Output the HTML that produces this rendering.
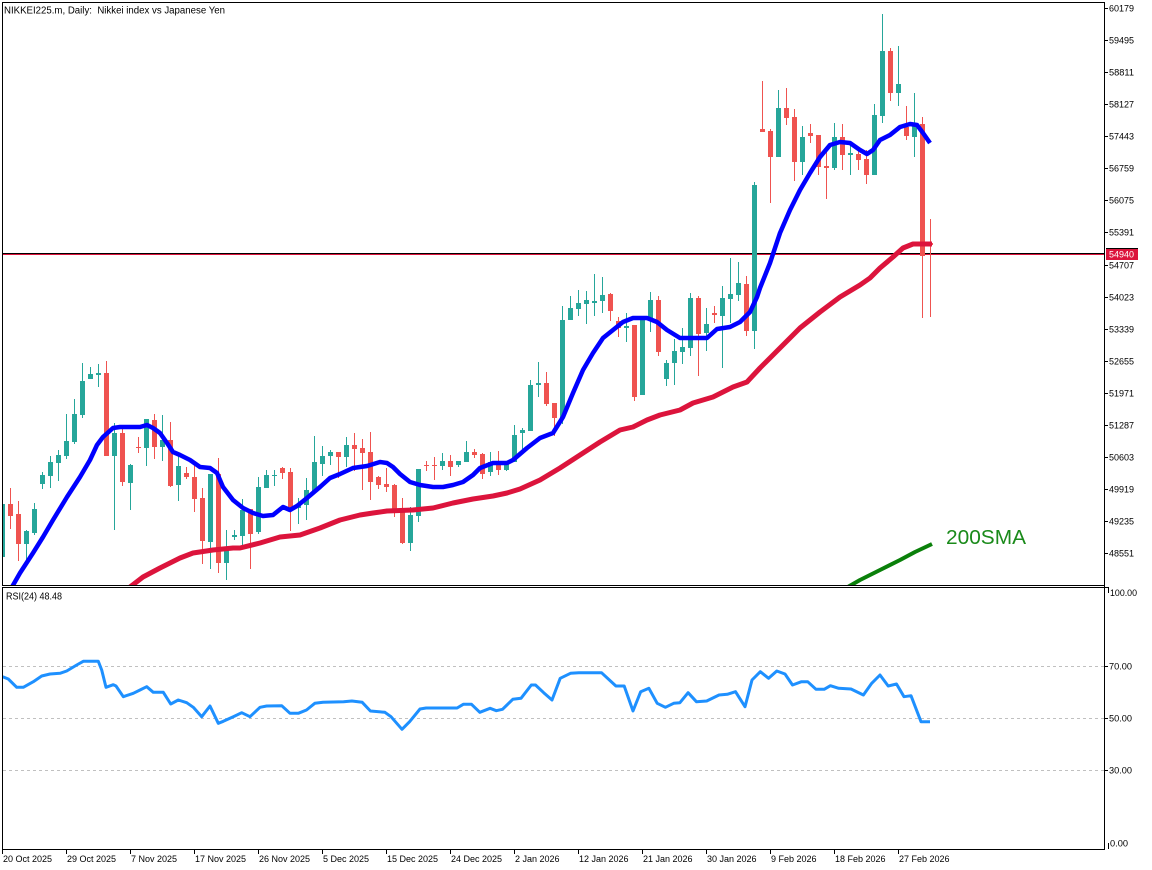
<!DOCTYPE html>
<html><head><meta charset="utf-8"><style>
html,body{margin:0;padding:0;background:#fff;}
svg{display:block;font-family:"Liberation Sans",Arial,sans-serif;}
</style></head><body>
<svg width="1152" height="870" viewBox="0 0 1152 870" xmlns="http://www.w3.org/2000/svg">
<defs>
<clipPath id="cm"><rect x="3" y="3" width="1101" height="582"/></clipPath>
<clipPath id="cr"><rect x="3" y="588" width="1101" height="261"/></clipPath>
</defs>
<rect width="1152" height="870" fill="#fff"/>

<!-- main panel -->
<g clip-path="url(#cm)">
<rect x="3" y="253" width="1101" height="1" fill="#000"/>
<rect x="3" y="254" width="1101" height="1" fill="#dc143c"/>
<g fill="#26a69a" shape-rendering="crispEdges">
<rect x="2" y="494" width="1" height="66"/><rect x="0" y="504" width="5" height="53"/>
<rect x="26" y="530" width="1" height="31"/><rect x="24" y="531" width="5" height="13"/>
<rect x="34" y="503" width="1" height="32"/><rect x="32" y="509" width="5" height="24"/>
<rect x="42" y="472" width="1" height="17"/><rect x="40" y="475" width="5" height="9"/>
<rect x="50" y="456" width="1" height="32"/><rect x="48" y="462" width="5" height="14"/>
<rect x="58" y="450" width="1" height="31"/><rect x="56" y="455" width="5" height="8"/>
<rect x="66" y="414" width="1" height="45"/><rect x="64" y="441" width="5" height="15"/>
<rect x="74" y="399" width="1" height="45"/><rect x="72" y="414" width="5" height="28"/>
<rect x="82" y="363" width="1" height="55"/><rect x="80" y="381" width="5" height="34"/>
<rect x="90" y="367" width="1" height="12"/><rect x="88" y="374" width="5" height="5"/>
<rect x="98" y="364" width="1" height="23"/><rect x="96" y="373" width="5" height="2"/>
<rect x="114" y="423" width="1" height="107"/><rect x="112" y="433" width="5" height="23"/>
<rect x="130" y="464" width="1" height="46"/><rect x="128" y="465" width="5" height="18"/>
<rect x="146" y="419" width="1" height="47"/><rect x="144" y="419" width="5" height="29"/>
<rect x="162" y="415" width="1" height="46"/><rect x="160" y="440" width="5" height="7"/>
<rect x="178" y="452" width="1" height="49"/><rect x="176" y="466" width="5" height="19"/>
<rect x="210" y="474" width="1" height="95"/><rect x="208" y="474" width="5" height="68"/>
<rect x="226" y="530" width="1" height="50"/><rect x="224" y="548" width="5" height="15"/>
<rect x="234" y="530" width="1" height="10"/><rect x="232" y="535" width="5" height="2"/>
<rect x="242" y="499" width="1" height="46"/><rect x="240" y="510" width="5" height="26"/>
<rect x="258" y="477" width="1" height="57"/><rect x="256" y="487" width="5" height="45"/>
<rect x="266" y="470" width="1" height="18"/><rect x="264" y="475" width="5" height="13"/>
<rect x="274" y="470" width="1" height="16"/><rect x="272" y="475" width="5" height="1"/>
<rect x="298" y="498" width="1" height="26"/><rect x="296" y="505" width="5" height="3"/>
<rect x="306" y="478" width="1" height="42"/><rect x="304" y="490" width="5" height="15"/>
<rect x="314" y="436" width="1" height="55"/><rect x="312" y="462" width="5" height="29"/>
<rect x="322" y="446" width="1" height="30"/><rect x="320" y="456" width="5" height="8"/>
<rect x="330" y="450" width="1" height="15"/><rect x="328" y="452" width="5" height="4"/>
<rect x="346" y="437" width="1" height="30"/><rect x="344" y="445" width="5" height="12"/>
<rect x="410" y="507" width="1" height="44"/><rect x="408" y="515" width="5" height="28"/>
<rect x="418" y="469" width="1" height="53"/><rect x="416" y="469" width="5" height="47"/>
<rect x="442" y="453" width="1" height="17"/><rect x="440" y="461" width="5" height="5"/>
<rect x="458" y="461" width="1" height="6"/><rect x="456" y="461" width="5" height="4"/>
<rect x="466" y="441" width="1" height="21"/><rect x="464" y="452" width="5" height="10"/>
<rect x="490" y="452" width="1" height="24"/><rect x="488" y="462" width="5" height="10"/>
<rect x="506" y="461" width="1" height="10"/><rect x="504" y="461" width="5" height="9"/>
<rect x="514" y="425" width="1" height="37"/><rect x="512" y="435" width="5" height="27"/>
<rect x="522" y="428" width="1" height="24"/><rect x="520" y="430" width="5" height="3"/>
<rect x="530" y="380" width="1" height="51"/><rect x="528" y="385" width="5" height="46"/>
<rect x="538" y="362" width="1" height="35"/><rect x="536" y="383" width="5" height="2"/>
<rect x="562" y="306" width="1" height="118"/><rect x="560" y="320" width="5" height="98"/>
<rect x="570" y="296" width="1" height="24"/><rect x="568" y="308" width="5" height="12"/>
<rect x="578" y="290" width="1" height="26"/><rect x="576" y="303" width="5" height="6"/>
<rect x="586" y="291" width="1" height="33"/><rect x="584" y="300" width="5" height="4"/>
<rect x="594" y="274" width="1" height="42"/><rect x="592" y="301" width="5" height="2"/>
<rect x="602" y="277" width="1" height="36"/><rect x="600" y="295" width="5" height="6"/>
<rect x="626" y="313" width="1" height="29"/><rect x="624" y="326" width="5" height="2"/>
<rect x="642" y="318" width="1" height="77"/><rect x="640" y="318" width="5" height="77"/>
<rect x="650" y="292" width="1" height="40"/><rect x="648" y="300" width="5" height="19"/>
<rect x="666" y="360" width="1" height="26"/><rect x="664" y="363" width="5" height="16"/>
<rect x="674" y="339" width="1" height="46"/><rect x="672" y="351" width="5" height="12"/>
<rect x="682" y="328" width="1" height="36"/><rect x="680" y="347" width="5" height="5"/>
<rect x="690" y="293" width="1" height="63"/><rect x="688" y="298" width="5" height="50"/>
<rect x="706" y="308" width="1" height="43"/><rect x="704" y="324" width="5" height="9"/>
<rect x="722" y="286" width="1" height="82"/><rect x="720" y="298" width="5" height="18"/>
<rect x="730" y="258" width="1" height="65"/><rect x="728" y="294" width="5" height="5"/>
<rect x="738" y="262" width="1" height="39"/><rect x="736" y="283" width="5" height="12"/>
<rect x="754" y="182" width="1" height="167"/><rect x="752" y="185" width="5" height="146"/>
<rect x="778" y="90" width="1" height="67"/><rect x="776" y="108" width="5" height="49"/>
<rect x="802" y="126" width="1" height="49"/><rect x="800" y="137" width="5" height="25"/>
<rect x="834" y="123" width="1" height="47"/><rect x="832" y="137" width="5" height="31"/>
<rect x="850" y="145" width="1" height="30"/><rect x="848" y="153" width="5" height="2"/>
<rect x="874" y="104" width="1" height="71"/><rect x="872" y="115" width="5" height="60"/>
<rect x="882" y="14" width="1" height="109"/><rect x="880" y="51" width="5" height="65"/>
<rect x="898" y="46" width="1" height="60"/><rect x="896" y="84" width="5" height="9"/>
<rect x="914" y="93" width="1" height="64"/><rect x="912" y="124" width="5" height="13"/>
</g>
<g fill="#ef5350" shape-rendering="crispEdges">
<rect x="10" y="488" width="1" height="41"/><rect x="8" y="504" width="5" height="12"/>
<rect x="18" y="501" width="1" height="60"/><rect x="16" y="514" width="5" height="30"/>
<rect x="106" y="361" width="1" height="95"/><rect x="104" y="373" width="5" height="83"/>
<rect x="122" y="426" width="1" height="60"/><rect x="120" y="433" width="5" height="49"/>
<rect x="138" y="437" width="1" height="16"/><rect x="136" y="447" width="5" height="1"/>
<rect x="154" y="414" width="1" height="45"/><rect x="152" y="420" width="5" height="27"/>
<rect x="170" y="422" width="1" height="65"/><rect x="168" y="440" width="5" height="46"/>
<rect x="186" y="467" width="1" height="12"/><rect x="184" y="473" width="5" height="4"/>
<rect x="194" y="464" width="1" height="48"/><rect x="192" y="477" width="5" height="22"/>
<rect x="202" y="488" width="1" height="76"/><rect x="200" y="498" width="5" height="43"/>
<rect x="218" y="458" width="1" height="115"/><rect x="216" y="474" width="5" height="89"/>
<rect x="250" y="509" width="1" height="60"/><rect x="248" y="509" width="5" height="25"/>
<rect x="282" y="467" width="1" height="12"/><rect x="280" y="468" width="5" height="5"/>
<rect x="290" y="468" width="1" height="63"/><rect x="288" y="472" width="5" height="36"/>
<rect x="338" y="452" width="1" height="26"/><rect x="336" y="452" width="5" height="5"/>
<rect x="354" y="433" width="1" height="38"/><rect x="352" y="445" width="5" height="4"/>
<rect x="362" y="439" width="1" height="51"/><rect x="360" y="448" width="5" height="5"/>
<rect x="370" y="432" width="1" height="68"/><rect x="368" y="452" width="5" height="30"/>
<rect x="378" y="476" width="1" height="13"/><rect x="376" y="477" width="5" height="8"/>
<rect x="386" y="468" width="1" height="24"/><rect x="384" y="484" width="5" height="3"/>
<rect x="394" y="484" width="1" height="33"/><rect x="392" y="485" width="5" height="24"/>
<rect x="402" y="498" width="1" height="46"/><rect x="400" y="509" width="5" height="34"/>
<rect x="426" y="461" width="1" height="10"/><rect x="424" y="465" width="5" height="1"/>
<rect x="434" y="457" width="1" height="23"/><rect x="432" y="465" width="5" height="1"/>
<rect x="450" y="455" width="1" height="21"/><rect x="448" y="461" width="5" height="6"/>
<rect x="474" y="449" width="1" height="9"/><rect x="472" y="452" width="5" height="3"/>
<rect x="482" y="453" width="1" height="26"/><rect x="480" y="454" width="5" height="20"/>
<rect x="498" y="451" width="1" height="24"/><rect x="496" y="462" width="5" height="8"/>
<rect x="546" y="372" width="1" height="34"/><rect x="544" y="383" width="5" height="21"/>
<rect x="554" y="403" width="1" height="33"/><rect x="552" y="403" width="5" height="15"/>
<rect x="610" y="293" width="1" height="28"/><rect x="608" y="294" width="5" height="17"/>
<rect x="618" y="317" width="1" height="20"/><rect x="616" y="321" width="5" height="7"/>
<rect x="634" y="325" width="1" height="76"/><rect x="632" y="325" width="5" height="72"/>
<rect x="658" y="296" width="1" height="60"/><rect x="656" y="300" width="5" height="52"/>
<rect x="698" y="296" width="1" height="80"/><rect x="696" y="298" width="5" height="36"/>
<rect x="714" y="306" width="1" height="17"/><rect x="712" y="313" width="5" height="2"/>
<rect x="746" y="276" width="1" height="60"/><rect x="744" y="284" width="5" height="47"/>
<rect x="762" y="81" width="1" height="49"/><rect x="760" y="129" width="5" height="3"/>
<rect x="770" y="129" width="1" height="74"/><rect x="768" y="131" width="5" height="26"/>
<rect x="786" y="88" width="1" height="37"/><rect x="784" y="108" width="5" height="10"/>
<rect x="794" y="109" width="1" height="72"/><rect x="792" y="117" width="5" height="45"/>
<rect x="810" y="124" width="1" height="19"/><rect x="808" y="133" width="5" height="3"/>
<rect x="818" y="135" width="1" height="40"/><rect x="816" y="135" width="5" height="32"/>
<rect x="826" y="149" width="1" height="50"/><rect x="824" y="166" width="5" height="2"/>
<rect x="842" y="124" width="1" height="46"/><rect x="840" y="137" width="5" height="18"/>
<rect x="858" y="150" width="1" height="20"/><rect x="856" y="154" width="5" height="6"/>
<rect x="866" y="150" width="1" height="34"/><rect x="864" y="159" width="5" height="16"/>
<rect x="890" y="48" width="1" height="53"/><rect x="888" y="51" width="5" height="42"/>
<rect x="906" y="106" width="1" height="34"/><rect x="904" y="127" width="5" height="9"/>
<rect x="922" y="117" width="1" height="201"/><rect x="920" y="124" width="5" height="132"/>
<rect x="930" y="219" width="1" height="98"/><rect x="928" y="243" width="5" height="2"/>
</g>
<polyline fill="none" stroke="#dc143c" stroke-width="5" stroke-linejoin="round" points="130,587 143,577 160,568 180,558 193,553 213,550 233,548 240,548 260,543 280,537 300,535 320,528 340,520 360,515 373,513 387,511 413,510 433,508 453,503 473,499 493,496 507,493 520,489 540,480 560,468 580,455 600,442 620,430 633,427 647,420 660,415 680,410 693,403 713,397 733,387 747,382 760,368 780,348 800,328 820,312 840,297 860,285 870,278 880,268 893,257 903,248 913,244 932,244"/>
<polyline fill="none" stroke="#0000ff" stroke-width="4.5" stroke-linejoin="round" points="12,587 20,573 33,553 43,537 53,520 67,497 80,477 90,460 97,445 103,437 113,428 120,427 140,427 147,425 153,428 160,433 167,443 173,452 180,455 190,460 200,467 210,468 217,473 223,487 233,500 243,508 253,513 263,516 273,515 283,507 290,510 297,506 307,498 320,487 330,478 340,474 353,468 367,466 380,462 387,463 393,467 400,474 410,482 420,485 433,487 443,487 453,485 463,482 473,475 480,468 493,463 507,463 513,460 527,448 540,438 553,433 563,417 573,393 583,370 593,353 603,338 613,330 623,322 633,318 647,318 657,322 667,330 680,338 693,338 707,338 717,329 730,327 740,322 750,312 757,297 760,288 770,263 780,233 790,210 800,190 810,173 820,157 830,145 840,142 850,143 860,150 867,154 873,150 880,140 890,135 900,127 910,124 917,125 923,133 930,143"/>
<polyline fill="none" stroke="#0a800a" stroke-width="4" stroke-linejoin="round" points="846,588 860,580 880,570 900,560 915,552 932,544"/>
<text x="946" y="544" font-size="20" fill="#1a8a1a" textLength="80" lengthAdjust="spacingAndGlyphs">200SMA</text>
</g>

<!-- RSI panel -->
<g stroke="#c0c0c0" stroke-width="1" stroke-dasharray="3,3">
<line x1="3" y1="666.5" x2="1104" y2="666.5"/>
<line x1="3" y1="718.5" x2="1104" y2="718.5"/>
<line x1="3" y1="770.5" x2="1104" y2="770.5"/>
</g>
<g clip-path="url(#cr)">
<polyline fill="none" stroke="#1e90ff" stroke-width="3" stroke-linejoin="round" points="2.7,676.7 8.3,679 16.7,687.3 23.3,687.3 33.3,681.7 41.7,676 50,674 60,673.3 66.7,671 76.7,665 83.3,661.3 98.3,661.3 101.7,670 106,687.3 113.3,684.7 116,686 123.3,696.7 133.3,693.3 140,690 146.7,686.7 153.3,692.3 163.3,692.3 170.7,704 178.3,700 186.7,702.7 193.3,707.3 201.7,716.7 210,706 218.3,723.3 223.3,721.3 233.3,716.7 241.7,712.7 250,716.7 260,707.3 266.7,706 281.7,705.7 290,713.3 298.3,713.3 306.5,710 314.8,703.3 323,702.3 343.6,701.7 351.9,701 362.2,702.3 370.4,711 384.9,712.3 391,716.7 402,729.3 409.6,721.7 420,709 426.1,708 457.1,708 463.3,704.3 471.5,704.3 479.8,712.3 490.1,708.3 496.3,710.7 502.5,709.3 512.8,699.3 521,698.3 531.3,685 535.5,685 543.7,692.7 552,700 560.2,678.3 570.5,673.3 578.8,672.7 601.5,672.7 615.9,686 624.2,686 633,711 640.7,691.7 648.9,688.3 657.2,703.3 665.4,707.3 673.7,703.3 679.9,702.7 688.1,692.7 696.4,701.7 706.7,701 719,695 727.3,694.3 735.5,691.7 745,706.7 752,680 760.3,671.7 768.6,678.3 776.8,671 785,674 792.5,685 801.5,681.7 807.7,681.7 816,689.3 824.2,689.3 830.4,685.7 838.7,688.3 851,689 863.4,695 871.7,683.3 880,675 888.2,686 896.5,684 904,696.7 911,695.7 921,721.7 930,721.7"/>
</g>

<!-- frames -->
<g fill="#000" shape-rendering="crispEdges">
<rect x="2" y="2" width="1103" height="1"/>
<rect x="2" y="2" width="1" height="584"/>
<rect x="2" y="585" width="1103" height="1"/>
<rect x="2" y="587" width="1103" height="1"/>
<rect x="2" y="587" width="1" height="263"/>
<rect x="2" y="849" width="1103" height="1"/>
<rect x="1104" y="2" width="1" height="848"/>
<!-- price ticks -->
<rect x="1104" y="8" width="4" height="1"/>
<rect x="1104" y="40" width="4" height="1"/>
<rect x="1104" y="72" width="4" height="1"/>
<rect x="1104" y="104" width="4" height="1"/>
<rect x="1104" y="136" width="4" height="1"/>
<rect x="1104" y="168" width="4" height="1"/>
<rect x="1104" y="200" width="4" height="1"/>
<rect x="1104" y="232" width="4" height="1"/>
<rect x="1104" y="265" width="4" height="1"/>
<rect x="1104" y="297" width="4" height="1"/>
<rect x="1104" y="329" width="4" height="1"/>
<rect x="1104" y="361" width="4" height="1"/>
<rect x="1104" y="393" width="4" height="1"/>
<rect x="1104" y="425" width="4" height="1"/>
<rect x="1104" y="457" width="4" height="1"/>
<rect x="1104" y="489" width="4" height="1"/>
<rect x="1104" y="521" width="4" height="1"/>
<rect x="1104" y="553" width="4" height="1"/>
<!-- rsi ticks -->
<rect x="1104" y="587" width="5" height="1"/>
<rect x="1108" y="587" width="1" height="6"/>
<rect x="1104" y="666" width="4" height="1"/>
<rect x="1104" y="718" width="4" height="1"/>
<rect x="1104" y="770" width="4" height="1"/>
<rect x="1108" y="843" width="1" height="6"/>
<!-- time ticks -->
<rect x="2" y="849" width="1" height="5"/>
<rect x="66" y="849" width="1" height="5"/>
<rect x="130" y="849" width="1" height="5"/>
<rect x="194" y="849" width="1" height="5"/>
<rect x="258" y="849" width="1" height="5"/>
<rect x="322" y="849" width="1" height="5"/>
<rect x="386" y="849" width="1" height="5"/>
<rect x="450" y="849" width="1" height="5"/>
<rect x="514" y="849" width="1" height="5"/>
<rect x="578" y="849" width="1" height="5"/>
<rect x="642" y="849" width="1" height="5"/>
<rect x="706" y="849" width="1" height="5"/>
<rect x="770" y="849" width="1" height="5"/>
<rect x="834" y="849" width="1" height="5"/>
<rect x="898" y="849" width="1" height="5"/>
</g>

<!-- price label -->
<rect x="1106" y="248" width="32" height="12" fill="#dc143c"/>
<rect x="1106" y="248" width="32" height="1" fill="#000"/>
<text x="1109" y="257.5" font-size="9" fill="#fff" textLength="25" lengthAdjust="spacingAndGlyphs">54940</text>

<g font-size="9" fill="#000">
<text x="1109" y="11.5" textLength="25" lengthAdjust="spacingAndGlyphs">60179</text>
<text x="1109" y="43.5" textLength="25" lengthAdjust="spacingAndGlyphs">59495</text>
<text x="1109" y="75.5" textLength="25" lengthAdjust="spacingAndGlyphs">58811</text>
<text x="1109" y="107.5" textLength="25" lengthAdjust="spacingAndGlyphs">58127</text>
<text x="1109" y="139.5" textLength="25" lengthAdjust="spacingAndGlyphs">57443</text>
<text x="1109" y="171.5" textLength="25" lengthAdjust="spacingAndGlyphs">56759</text>
<text x="1109" y="203.5" textLength="25" lengthAdjust="spacingAndGlyphs">56075</text>
<text x="1109" y="235.5" textLength="25" lengthAdjust="spacingAndGlyphs">55391</text>
<text x="1109" y="268.5" textLength="25" lengthAdjust="spacingAndGlyphs">54707</text>
<text x="1109" y="300.5" textLength="25" lengthAdjust="spacingAndGlyphs">54023</text>
<text x="1109" y="332.5" textLength="25" lengthAdjust="spacingAndGlyphs">53339</text>
<text x="1109" y="364.5" textLength="25" lengthAdjust="spacingAndGlyphs">52655</text>
<text x="1109" y="396.5" textLength="25" lengthAdjust="spacingAndGlyphs">51971</text>
<text x="1109" y="428.5" textLength="25" lengthAdjust="spacingAndGlyphs">51287</text>
<text x="1109" y="460.5" textLength="25" lengthAdjust="spacingAndGlyphs">50603</text>
<text x="1109" y="492.5" textLength="25" lengthAdjust="spacingAndGlyphs">49919</text>
<text x="1109" y="524.5" textLength="25" lengthAdjust="spacingAndGlyphs">49235</text>
<text x="1109" y="556.5" textLength="25" lengthAdjust="spacingAndGlyphs">48551</text>
<text x="1110" y="596" textLength="27" lengthAdjust="spacingAndGlyphs">100.00</text>
<text x="1109" y="669.5" textLength="23" lengthAdjust="spacingAndGlyphs">70.00</text>
<text x="1109" y="721.5" textLength="23" lengthAdjust="spacingAndGlyphs">50.00</text>
<text x="1109" y="773.5" textLength="23" lengthAdjust="spacingAndGlyphs">30.00</text>
<text x="1110" y="846.5" textLength="18" lengthAdjust="spacingAndGlyphs">0.00</text>
<text x="3" y="862">20 Oct 2025</text>
<text x="67" y="862">29 Oct 2025</text>
<text x="131" y="862">7 Nov 2025</text>
<text x="195" y="862">17 Nov 2025</text>
<text x="259" y="862">26 Nov 2025</text>
<text x="323" y="862">5 Dec 2025</text>
<text x="387" y="862">15 Dec 2025</text>
<text x="451" y="862">24 Dec 2025</text>
<text x="515" y="862">2 Jan 2026</text>
<text x="579" y="862">12 Jan 2026</text>
<text x="643" y="862">21 Jan 2026</text>
<text x="707" y="862">30 Jan 2026</text>
<text x="771" y="862">9 Feb 2026</text>
<text x="835" y="862">18 Feb 2026</text>
<text x="899" y="862">27 Feb 2026</text>
</g>

<text x="4" y="13.5" font-size="10" fill="#000" textLength="221" lengthAdjust="spacingAndGlyphs">NIKKEI225.m, Daily:&#160; Nikkei index vs Japanese Yen</text>
<text x="6" y="599.5" font-size="10" fill="#000" textLength="56" lengthAdjust="spacingAndGlyphs">RSI(24) 48.48</text>
</svg>
</body></html>
